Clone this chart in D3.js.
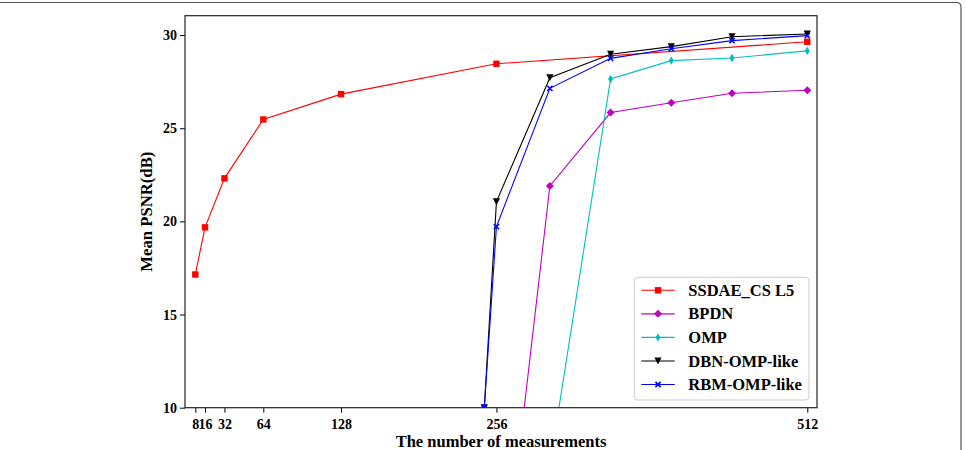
<!DOCTYPE html>
<html>
<head>
<meta charset="utf-8">
<script src="https://cdn.jsdelivr.net/npm/d3@7/dist/d3.min.js"></script>
<style>
  html, body { margin: 0; padding: 0; background: #fff; }
  svg text { font-family: "Liberation Serif", "Times New Roman", serif; font-weight: bold; fill: #000; }
</style>
</head>
<body>
<svg id="chart" width="966" height="450"></svg>
<script>
// ---- data ----
const xTicks = [8, 16, 32, 64, 128, 256, 512];
const yTicks = [10, 15, 20, 25, 30];

const seriesNames = ["SSDAE_CS L5", "BPDN", "OMP", "DBN-OMP-like", "RBM-OMP-like"];

const ssdaeX = [8, 16, 32, 64, 128, 256, 512];
const ssdaeY = [17.15, 19.68, 22.31, 25.47, 26.83, 28.46, 29.64];

const bpdnX = [256, 300, 350, 400, 450, 512];
const bpdnY = [-2.9, 21.9, 25.84, 26.37, 26.88, 27.04];

const ompX = [300, 350, 400, 450, 512];
const ompY = [6.9, 27.64, 28.63, 28.77, 29.15];

const dbnX = [246, 256, 300, 350, 400, 450, 512];
const dbnY = [10, 21.06, 27.71, 28.97, 29.38, 29.91, 30.06];

const rbmX = [246, 256, 300, 350, 400, 450, 512];
const rbmY = [10, 19.72, 27.14, 28.75, 29.27, 29.70, 29.97];

const xLabel = "The number of measurements";
const yLabel = "Mean PSNR(dB)";

// ---- layout ----
const svg = d3.select("#chart");
const L = 185, R = 817, T = 15.7, B = 407.7;

const x = d3.scaleLinear().domain([-0.5, 520]).range([L, R]);
const y = d3.scaleLinear().domain([10, 31.04]).range([B, T]);

// outer frame
svg.append("path")
  .attr("d", `M0,2.5 H956.5 Q961,2.5 961,7 V450`)
  .attr("fill", "none").attr("stroke", "#555").attr("stroke-width", 1.2);

svg.append("defs").append("clipPath").attr("id", "plotclip")
  .append("rect").attr("x", L).attr("y", T).attr("width", R - L).attr("height", B - T);

const series = [
  { name: seriesNames[0], xs: ssdaeX, ys: ssdaeY, color: "#ff0000", marker: "square" },
  { name: seriesNames[1], xs: bpdnX, ys: bpdnY, color: "#bf00bf", marker: "diamond" },
  { name: seriesNames[2], xs: ompX, ys: ompY, color: "#00bfbf", marker: "thindiamond" },
  { name: seriesNames[3], xs: dbnX, ys: dbnY, color: "#000000", marker: "tridown" },
  { name: seriesNames[4], xs: rbmX, ys: rbmY, color: "#0000ff", marker: "x" }
];

function drawMarker(g, type, cx, cy, color) {
  if (type === "square") {
    g.append("rect").attr("x", cx - 3.2).attr("y", cy - 3.2).attr("width", 6.4).attr("height", 6.4)
      .attr("fill", color);
  } else if (type === "diamond") {
    g.append("path").attr("d", `M${cx},${cy-4} L${cx+4},${cy} L${cx},${cy+4} L${cx-4},${cy} Z`)
      .attr("fill", color);
  } else if (type === "thindiamond") {
    g.append("path").attr("d", `M${cx},${cy-4.2} L${cx+2.5},${cy} L${cx},${cy+4.2} L${cx-2.5},${cy} Z`)
      .attr("fill", color);
  } else if (type === "tridown") {
    g.append("path").attr("d", `M${cx-3.6},${cy-3.4} L${cx+3.6},${cy-3.4} L${cx},${cy+3.6} Z`)
      .attr("fill", color);
  } else if (type === "x") {
    g.append("path").attr("d", `M${cx-2.6},${cy-2.6} L${cx+2.6},${cy+2.6} M${cx-2.6},${cy+2.6} L${cx+2.6},${cy-2.6}`)
      .attr("stroke", color).attr("stroke-width", 1.6).attr("fill", "none");
  }
}

const plot = svg.append("g").attr("clip-path", "url(#plotclip)");
const line = d3.line().x(d => x(d[0])).y(d => y(d[1]));

series.forEach(s => {
  const pts = s.xs.map((v, i) => [v, s.ys[i]]);
  const g = plot.append("g");
  g.append("path").datum(pts).attr("d", line)
    .attr("fill", "none").attr("stroke", s.color).attr("stroke-width", 1.1);
  pts.forEach(p => drawMarker(g, s.marker, x(p[0]), y(p[1]), s.color));
});

// axes
const xAxis = svg.append("g").attr("transform", `translate(0,${B})`)
  .call(d3.axisBottom(x).tickValues(xTicks).tickSize(5).tickPadding(6).tickFormat(d3.format("d")));
const yAxis = svg.append("g").attr("transform", `translate(${L},0)`)
  .call(d3.axisLeft(y).tickValues(yTicks).tickSize(5).tickPadding(3).tickFormat(d3.format("d")));

[xAxis, yAxis].forEach(a => {
  a.select(".domain").remove();
  a.selectAll(".tick line").attr("stroke", "#000").attr("stroke-width", 1);
  a.selectAll(".tick text").style("font-size", "14px").style("font-family", "'Liberation Serif', serif")
    .style("font-weight", "bold").attr("fill", "#000");
});

// plot frame
svg.append("rect").attr("x", L).attr("y", T).attr("width", R - L).attr("height", B - T)
  .attr("fill", "none").attr("stroke", "#222").attr("stroke-width", 1.2);

// axis labels
svg.append("text").attr("x", (L + R) / 2).attr("y", 446.5).attr("text-anchor", "middle")
  .style("font-size", "16.5px").text(xLabel);
svg.append("text").attr("transform", `translate(151.5,${(T + B) / 2}) rotate(-90)`)
  .attr("text-anchor", "middle").style("font-size", "16.7px").text(yLabel);

// legend
const lg = svg.append("g");
lg.append("rect").attr("x", 634.3).attr("y", 277.3).attr("width", 174.7).attr("height", 122.7)
  .attr("rx", 3.5).attr("fill", "#fff").attr("fill-opacity", 0.85)
  .attr("stroke", "#cccccc").attr("stroke-width", 1);
series.forEach((s, i) => {
  const cy = 290.3 + i * 23.55;
  lg.append("line").attr("x1", 641.3).attr("x2", 674.7).attr("y1", cy).attr("y2", cy)
    .attr("stroke", s.color).attr("stroke-width", 1.1);
  drawMarker(lg, s.marker, 658, cy, s.color);
  lg.append("text").attr("x", 688.3).attr("y", cy + 5.6).style("font-size", "16.5px").text(s.name);
});
</script>
</body>
</html>
